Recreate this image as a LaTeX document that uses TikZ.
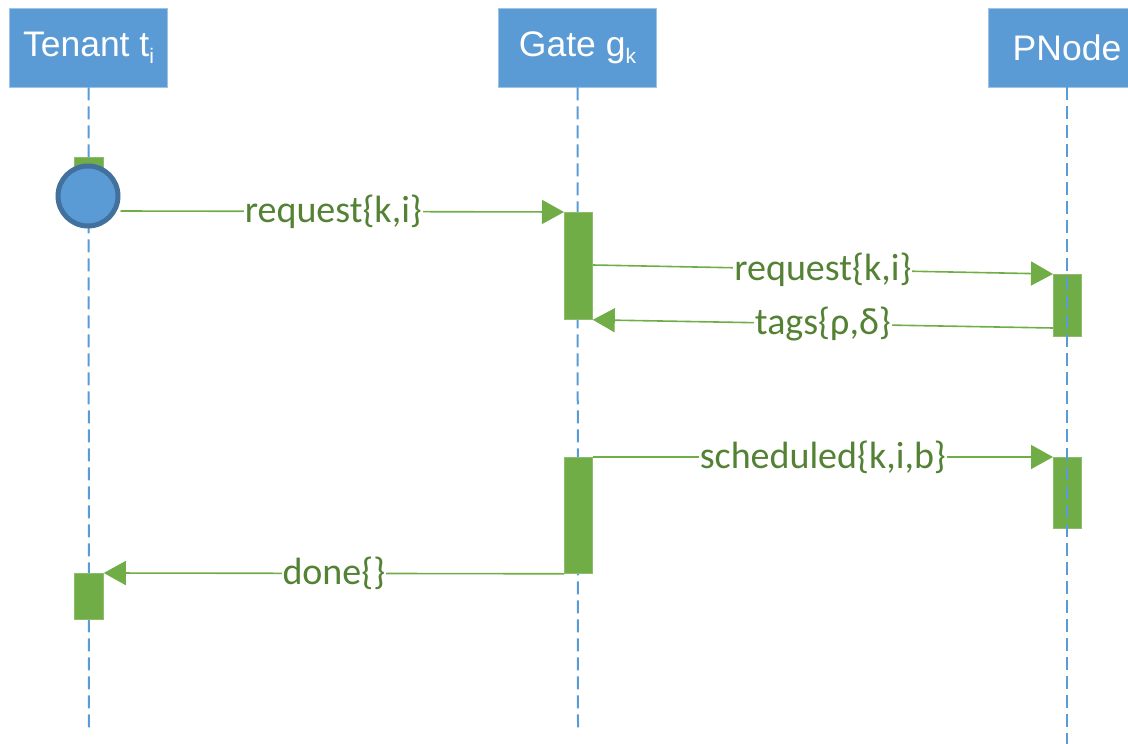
\documentclass[tikz,border=0pt]{standalone}
\usepackage{fontspec}
\setmainfont{Liberation Sans}
\newfontfamily\labelfont{Carlito}
\usetikzlibrary{arrows.meta}
\definecolor{headblue}{HTML}{5B9BD5}
\definecolor{ringblue}{HTML}{41719C}
\definecolor{actgreen}{HTML}{70AD47}
\definecolor{textgreen}{HTML}{548235}
\newcommand{\lowsub}[1]{\raisebox{-0.2em}{\fontsize{21}{21}\selectfont #1}}
\tikzset{
  header/.style={fill=headblue, draw=headblue!60!white, line width=0.8pt,
    minimum width=158pt, minimum height=79pt, inner sep=0pt,
    text=white, font=\fontsize{35.5}{40}\selectfont},
  lifeline/.style={draw=headblue, line width=2pt, dash pattern=on 13pt off 6pt},
  activation/.style={fill=actgreen, draw=actgreen!80!white, line width=0.8pt},
  msg/.style={draw=actgreen, line width=1.6pt,
    -{Triangle[length=22pt,width=24pt,fill=actgreen]}},
  msglabel/.style={fill=white, inner sep=1pt, text=textgreen,
    font=\labelfont\fontsize{38}{42}\selectfont},
}
\begin{document}
\begin{tikzpicture}[x=1pt,y=-1pt]
  \useasboundingbox (0,0) rectangle (1128,744);

  % participants
  \node[header] (tenant) at (88.5,47.5) {Tenant t\lowsub{i}};
  \node[header] (gate) at (577.5,47.5) {Gate g\lowsub{k}};
  \node[header] (pnode) at (1067,47.5) {PNode};

  % lifeline ends
  \coordinate (tenantEnd) at (89,728);
  \coordinate (gateEnd) at (578,728);
  \coordinate (pnodeEnd) at (1067,744);

  % tenant start marker
  \node[activation, minimum width=29pt, minimum height=40pt, inner sep=0pt, anchor=north]
    (tStart) at (88.5,157) {};
  \draw[lifeline] (tenant.south) -- (tenantEnd);
  \node[circle, fill=headblue, draw=ringblue, line width=5pt, minimum size=60pt, inner sep=0pt]
    (init) at (88,196) {};

  \draw[lifeline] (gate.south) -- (gateEnd);

  % activation bars
  \node[activation, minimum width=28pt, minimum height=107pt, inner sep=0pt, anchor=north west]
    (gAct1) at (564,212) {};
  \node[activation, minimum width=28pt, minimum height=116pt, inner sep=0pt, anchor=north west]
    (gAct2) at (564,457) {};
  \node[activation, minimum width=28pt, minimum height=62pt, inner sep=0pt, anchor=north west]
    (pAct1) at (1053,274) {};
  \node[activation, minimum width=28pt, minimum height=71pt, inner sep=0pt, anchor=north west]
    (pAct2) at (1053,457) {};
  \node[activation, minimum width=29pt, minimum height=46pt, inner sep=0pt, anchor=north west]
    (tAct) at (74,573) {};

  \draw[lifeline] (pnode.south) -- (pnodeEnd);

  % messages
  \draw[msg] (init.east |- 0,211) -- (gAct1.north west)
    node[msglabel, pos=0.48] {request\{k,i\}};
  \draw[msg] (gAct1.east |- 0,265) -- (pAct1.north west)
    node[msglabel, midway] {request\{k,i\}};
  \draw[msg] (pAct1.west |- 0,328) -- (gAct1.south east)
    node[msglabel, midway] {tags\{ρ,δ\}};
  \draw[msg] (gAct2.north east) -- (pAct2.north west)
    node[msglabel, midway] {scheduled\{k,i,b\}};
  \draw[msg] (gAct2.south west) -- (tAct.north east)
    node[msglabel, midway] {done\{\}};
\end{tikzpicture}
\end{document}
